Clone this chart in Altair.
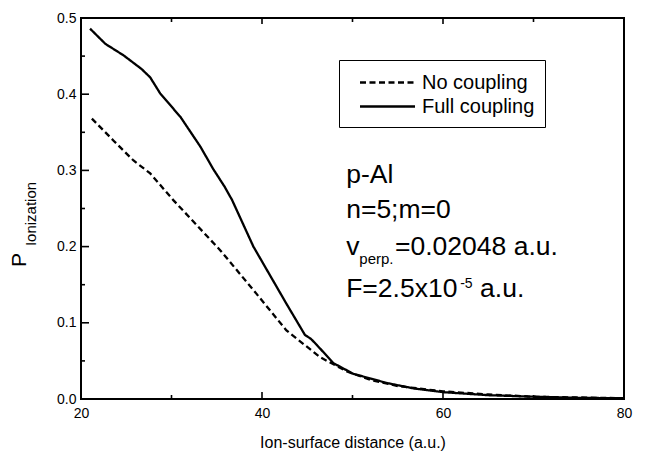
import altair as alt
import pandas as pd

# ---- data ----
full_x = [21.0, 22.7, 24.7, 26.7, 27.65, 28.75, 31.0, 33.2, 34.6, 35.9, 36.7, 39.05,
          42.7, 44.75, 45.4, 46.05, 47.9, 50.1, 53.8, 56.7, 60.0, 65.0, 70.0, 75.0, 80.0]
full_y = [0.486, 0.466, 0.451, 0.433, 0.422, 0.401, 0.370, 0.331, 0.302, 0.278, 0.261, 0.200,
          0.125, 0.084, 0.079, 0.071, 0.047, 0.033, 0.021, 0.014, 0.009, 0.005, 0.003, 0.0015, 0.001]
none_x = [21.2, 23.6, 25.8, 27.65, 30.2, 35.4, 39.05, 42.7, 46.4, 49.4, 52.0, 55.0, 60.0, 65.0, 70.0, 80.0]
none_y = [0.368, 0.339, 0.313, 0.296, 0.261, 0.195, 0.143, 0.090, 0.055, 0.036, 0.025, 0.017,
          0.010, 0.006, 0.003, 0.001]
series_names = ["No coupling", "Full coupling"]

x_labels = [20, 40, 60, 80]
x_minor = [30, 50, 70]
x_major_inner = [40, 60]
y_labels = [0.0, 0.1, 0.2, 0.3, 0.4, 0.5]
y_major_inner = [0.1, 0.2, 0.3, 0.4]
y_minor = [0.05, 0.15, 0.25, 0.35, 0.45]

ann_text = ["p-Al", "n=5;m=0", "v", "perp.", "=0.02048 a.u.", "F=2.5x10", "-5", "a.u."]
ann_x = [49.3, 49.3, 49.3, 50.75, 54.7, 49.3, 61.9, 64.1]
ann_y = [0.284, 0.237, 0.189, 0.177, 0.189, 0.134, 0.146, 0.134]
ann_fs = [26.5, 26.5, 26.5, 15, 26.5, 26.5, 14, 26.5]

FONT = "Liberation Sans"
W, H = 543, 381
INK = "black"

lines = pd.DataFrame({
    "x": none_x + full_x,
    "y": none_y + full_y,
    "s": [series_names[0]] * len(none_x) + [series_names[1]] * len(full_x),
})
ann = pd.DataFrame({"t": ann_text, "x": ann_x, "y": ann_y, "fs": ann_fs})

xs = alt.Scale(domain=[20, 80], nice=False, zero=False)
ys = alt.Scale(domain=[0, 0.5], nice=False)
X_AX = alt.Axis(values=x_labels, ticks=False, domain=False, grid=False, labelFontSize=14,
                labelFont=FONT, labelColor="black", labelPadding=7, labelFlush=False,
                title="Ion-surface distance (a.u.)",
                titleFont=FONT, titleFontSize=16, titleFontWeight="normal", titleColor="black",
                titlePadding=14)
Y_AX = alt.Axis(values=y_labels, format=".1f", ticks=False, domain=False, grid=False,
                labelFontSize=14, labelFont=FONT, labelColor="black", labelPadding=5,
                labelFlush=False, title=None)

base_x = alt.X("x:Q", scale=xs, axis=X_AX)
base_y = alt.Y("y:Q", scale=ys, axis=Y_AX)

line_layer = alt.Chart(lines).mark_line(color="black", strokeWidth=2.3).encode(
    x=base_x,
    y=base_y,
    strokeDash=alt.StrokeDash(
        "s:N",
        scale=alt.Scale(domain=series_names, range=[[6, 3.5], [1, 0]]),
        legend=alt.Legend(orient="none", legendX=258, legendY=42, title=None,
                          symbolType="M-2.5,0H2.5", symbolSize=484, symbolStrokeWidth=2.3,
                          symbolStrokeColor="black", labelFontSize=20, labelFont=FONT,
                          labelColor="black", strokeColor="black", padding=10,
                          rowPadding=1, labelOffset=22, symbolOffset=26,
                          labelExpr="datum.label + '     '"),
    ),
)

ann_layer = alt.Chart(ann).mark_text(align="left", baseline="alphabetic", font=FONT,
                                     color="black").encode(
    x=base_x, y=base_y, text="t:N", size=alt.Size("fs:Q", scale=None, legend=None)
)


def vticks(vals, y0, y1):
    return alt.Chart(pd.DataFrame({"x": vals})).mark_rule(color=INK, strokeWidth=1.6).encode(
        x=base_x, y=alt.value(y0), y2=alt.value(y1))


def hticks(vals, x0, x1):
    return alt.Chart(pd.DataFrame({"y": vals})).mark_rule(color=INK, strokeWidth=1.6).encode(
        y=base_y, x=alt.value(x0), x2=alt.value(x1))


ticks = [
    vticks(x_major_inner, H, H - 7), vticks(x_minor, H, H - 4),
    vticks(x_major_inner, 0, 6), vticks(x_minor, 0, 4),
    hticks(y_major_inner, 0, 8), hticks(y_minor, 0, 4),
]

frame = alt.Chart(pd.DataFrame({"a": [0]})).mark_rect(
    fill="transparent", stroke=INK, strokeWidth=2
).encode(x=alt.value(0), x2=alt.value(W), y=alt.value(0), y2=alt.value(H))

p_title = alt.Chart(pd.DataFrame({"a": [0]})).mark_text(
    angle=270, font=FONT, fontSize=21, color="black", align="center", baseline="alphabetic"
).encode(x=alt.value(-55), y=alt.value(242), text=alt.value("P"))
sub_title = alt.Chart(pd.DataFrame({"a": [0]})).mark_text(
    angle=270, font=FONT, fontSize=15, color="black", align="center", baseline="alphabetic"
).encode(x=alt.value(-45), y=alt.value(196), text=alt.value("Ionization"))

chart = alt.layer(line_layer, ann_layer, *ticks, frame, p_title, sub_title).properties(
    width=W, height=H,
    autosize=alt.AutoSizeParams(type="none"),
    padding={"left": 73, "top": 10, "right": 14, "bottom": 52},
    background="white",
).configure_view(stroke=None)

chart.save("out.html", embed_options={"renderer": "svg", "actions": False})
